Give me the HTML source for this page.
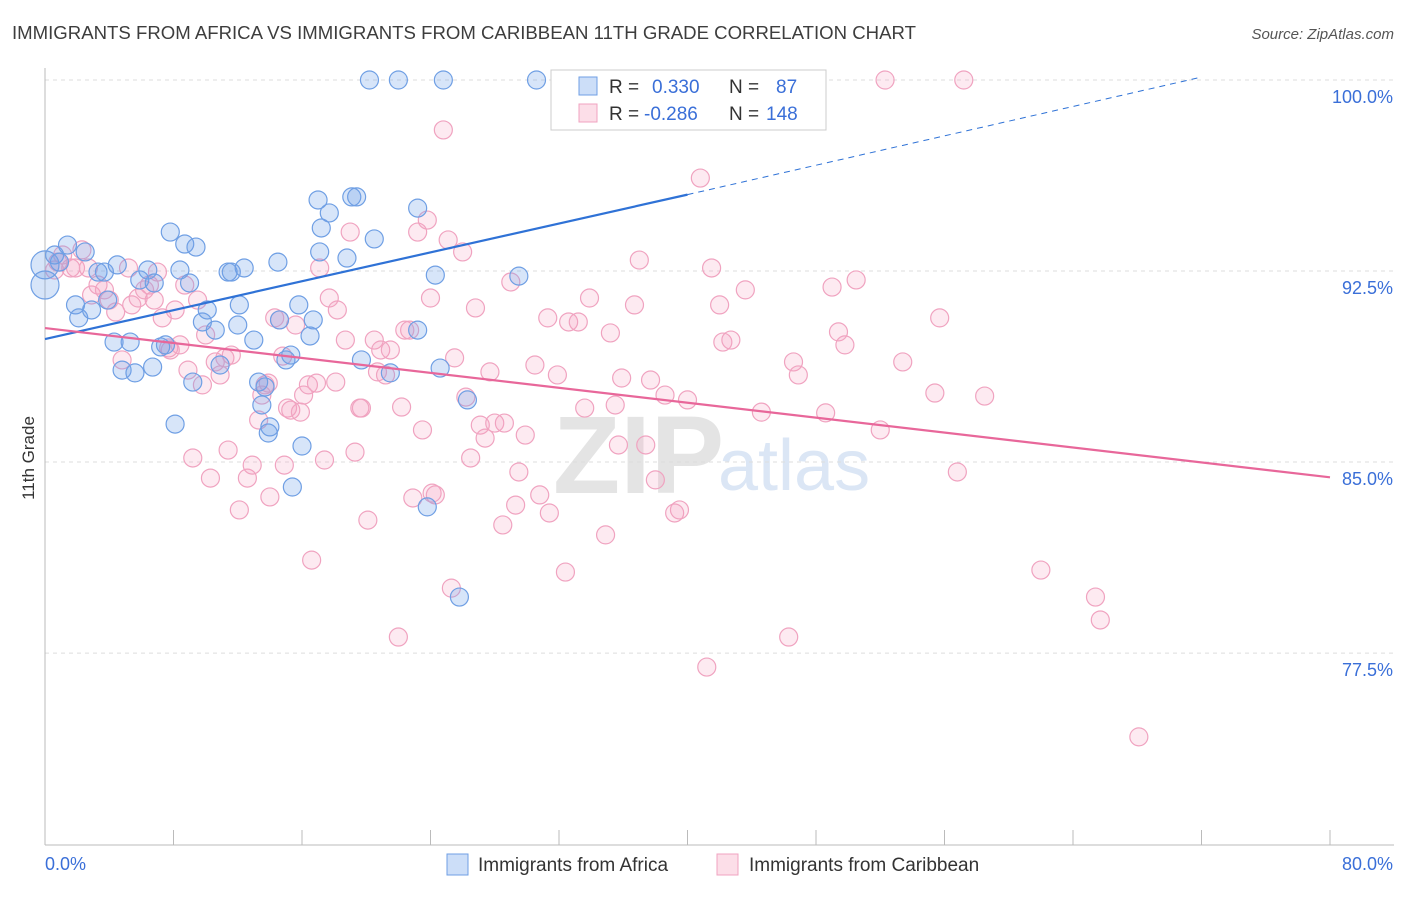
<!DOCTYPE html>
<html><head><meta charset="utf-8"><style>
body{margin:0;background:#fff;font-family:"Liberation Sans",sans-serif;}
svg text{font-family:"Liberation Sans",sans-serif;}
</style></head><body>
<svg id="chart" width="1406" height="892" viewBox="0 0 1406 892" xmlns="http://www.w3.org/2000/svg">
<text x="12" y="39" font-size="18.6" fill="#3d3d3d">IMMIGRANTS FROM AFRICA VS IMMIGRANTS FROM CARIBBEAN 11TH GRADE CORRELATION CHART</text>
<text x="1394" y="39" font-size="15" fill="#555" text-anchor="end" font-style="italic">Source: ZipAtlas.com</text>
<g>
<text x="553" y="493" font-size="110" fill="#e4e4e4" font-family="Liberation Serif,serif" font-weight="bold">ZIP</text>
<text x="718" y="490" font-size="72" fill="#dbe6f5">atlas</text>
</g>
<g id="grid"></g>
<g id="axes"></g>
<g id="pts"></g>
<g id="lines"></g>
<text transform="translate(34,458) rotate(-90)" font-size="17" fill="#333" text-anchor="middle">11th Grade</text>
<g>
<rect x="551" y="70" width="275" height="60" fill="#fff" stroke="#ccc"/>
<rect x="579" y="77" width="18" height="18" fill="rgba(110,160,235,0.35)" stroke="#6f9fe4"/>
<rect x="579" y="104" width="18" height="18" fill="rgba(245,160,190,0.35)" stroke="#f0a3c0"/>
<text x="609" y="93" font-size="19" fill="#333">R =</text>
<text x="652" y="93" font-size="19" fill="#3a6fd8">0.330</text>
<text x="729" y="93" font-size="19" fill="#333">N =</text>
<text x="776" y="93" font-size="19" fill="#3a6fd8">87</text>
<text x="609" y="120" font-size="19" fill="#333">R =</text>
<text x="644" y="120" font-size="19" fill="#3a6fd8">-0.286</text>
<text x="729" y="120" font-size="19" fill="#333">N =</text>
<text x="766" y="120" font-size="19" fill="#3a6fd8">148</text>
</g>
<g>
<rect x="447" y="854" width="21" height="21" fill="rgba(110,160,235,0.35)" stroke="#6f9fe4"/>
<text x="478" y="871" font-size="19" fill="#333">Immigrants from Africa</text>
<rect x="717" y="854" width="21" height="21" fill="rgba(245,160,190,0.35)" stroke="#f0a3c0"/>
<text x="749" y="871" font-size="19" fill="#333">Immigrants from Caribbean</text>
</g>
</svg>
<script>
const yTicks=[100,92.5,85,77.5];
const yTickLabels=["100.0%","92.5%","85.0%","77.5%"];
const xTicks=[0,8,16,24,32,40,48,56,64,72,80];
const xTickLabels=["0.0%","80.0%"];
const africaX=[20.2,22.0,24.8,30.6,32.8,35.8,0,0,0.6,0.9,1.4,1.9,2.1,2.5,2.9,3.3,3.7,3.9,4.3,4.5,4.8,5.3,5.6,5.9,6.4,6.7,6.8,7.2,7.5,7.8,8.1,8.4,8.7,9.0,9.2,9.4,9.8,10.1,10.6,10.9,11.4,11.6,12.0,12.1,12.4,13.0,13.3,13.5,13.7,13.9,14.0,14.5,14.6,15.0,15.3,15.4,15.8,16.0,16.5,16.7,17.0,17.1,17.2,17.7,18.8,19.1,19.4,19.7,20.5,21.5,23.2,23.2,23.8,24.3,24.6,25.8,26.3,29.5];
const africaY=[100,100,100,100,100,100,92.74,91.95,93.13,92.85,93.52,91.17,90.66,93.25,90.97,92.46,92.46,91.36,89.71,92.74,88.61,89.71,88.50,92.15,92.54,88.73,92.03,89.52,89.60,94.03,86.49,92.54,93.56,92.03,88.14,93.44,90.50,90.97,90.18,88.81,92.46,92.46,90.38,91.17,92.62,89.79,88.14,87.24,87.95,86.14,86.38,92.85,90.58,89.01,89.20,84.02,91.17,85.63,89.95,90.58,95.29,93.25,94.19,94.78,93.01,95.41,95.41,89.01,93.76,88.50,90.18,94.97,83.24,92.34,88.69,79.70,87.44,92.30];
const caribX=[0.6,0.8,1.1,1.6,1.9,2.3,2.7,2.9,3.3,3.7,4.0,4.4,4.8,5.2,5.4,5.8,6.2,6.5,6.8,7.0,7.3,7.7,7.8,8.1,8.4,8.7,8.9,9.2,9.5,9.8,10.0,10.3,10.6,10.9,11.2,11.4,11.6,12.1,12.6,12.9,13.3,13.5,13.7,13.9,14.0,14.3,14.6,14.8,14.9,15.1,15.3,15.6,15.9,16.1,16.4,16.6,16.9,17.1,17.4,17.7,18.1,18.2,18.7,19.0,19.3,19.6,19.7,20.1,20.5,20.7,20.9,21.2,21.5,22.0,22.2,22.4,22.7,22.9,23.2,23.5,23.8,24.0,24.1,24.3,24.8,25.1,25.3,25.5,26.0,26.2,26.5,26.8,27.1,27.4,27.7,28.0,28.5,28.6,29.0,29.3,29.5,29.9,30.5,30.8,31.3,31.4,31.9,32.4,32.6,33.2,33.6,33.9,34.9,35.2,35.5,35.7,35.9,36.7,37.0,37.4,37.7,38.0,38.6,39.2,39.5,40.0,40.8,41.2,41.5,42.0,42.2,42.7,43.6,44.6,46.3,46.6,46.9,48.6,49.0,49.4,49.8,50.5,52.0,52.3,53.4,55.4,55.7,56.8,57.2,58.5,62.0,65.4,65.7,68.1];
const caribY=[92.54,92.85,93.13,92.62,92.62,93.33,92.62,91.56,91.95,91.76,91.36,90.89,89.01,92.62,91.17,91.44,91.76,91.95,91.36,92.46,90.66,89.48,89.40,90.97,89.60,91.95,88.61,85.16,91.36,88.03,89.99,84.37,88.93,88.42,89.09,85.47,89.20,83.12,84.37,84.88,86.65,87.63,88.03,88.10,83.63,90.66,90.58,89.16,84.88,87.12,87.04,90.38,86.96,87.63,88.03,81.15,88.10,92.62,85.08,91.44,88.14,90.97,89.79,94.03,85.39,87.12,87.12,82.72,89.79,88.54,89.40,88.42,89.40,78.13,87.16,90.18,90.18,83.59,94.03,86.26,94.50,91.44,83.78,83.71,98.04,93.72,80.05,89.09,93.25,87.55,85.16,91.05,86.45,85.94,88.54,86.53,82.53,86.53,92.07,83.31,84.61,86.06,88.81,83.71,90.66,83.00,88.42,80.68,90.50,90.50,87.12,91.44,82.14,90.07,87.24,85.67,88.30,91.17,92.93,85.67,88.22,84.30,87.63,83.00,83.12,87.44,96.15,76.95,92.62,91.17,89.71,89.79,91.76,86.96,78.13,88.93,88.42,86.93,91.87,90.11,89.60,92.15,86.26,100,88.93,87.71,90.66,84.61,100,87.59,80.76,79.70,78.80,74.21];
const africaTrend=[[0,89.83],[40,95.5],[71.9,100.1]];
const caribTrend=[[0,90.26],[80,84.4]];

const NS="http://www.w3.org/2000/svg";
const X0=45,X1=1330,Y0=80,PPU=25.47;
const sx=v=>X0+(v-0)/80*(X1-X0);
const sy=v=>Y0+(100-v)*PPU;
function mk(tag,attrs,parent){const e=document.createElementNS(NS,tag);for(const k in attrs)e.setAttribute(k,attrs[k]);parent.appendChild(e);return e;}
const grid=document.getElementById('grid'),axes=document.getElementById('axes'),pts=document.getElementById('pts'),lines=document.getElementById('lines');
yTicks.forEach((t,i)=>{
  const l=mk('line',{x1:X0,x2:1394,y1:sy(t),y2:sy(t),stroke:'#ddd','stroke-dasharray':'4,4'},grid);
  
  
  const tx=mk('text',{x:1393,y:sy(t)+23,'font-size':18,fill:'#3a6fd8','text-anchor':'end'},axes);
  tx.textContent=yTickLabels[i];
  
  
});
mk('line',{x1:X0,x2:X0,y1:68,y2:845,stroke:'#bbb'},axes);
mk('line',{x1:X0,x2:1394,y1:845,y2:845,stroke:'#bbb'},axes);
xTicks.forEach(t=>{
  const l=mk('line',{x1:sx(t),x2:sx(t),y1:830,y2:845,stroke:'#bbb'},axes);
  
  
});
const xl0=mk('text',{x:45,y:870,'font-size':18,fill:'#3a6fd8'},axes);xl0.textContent=xTickLabels[0];


const xl1=mk('text',{x:1393,y:870,'font-size':18,fill:'#3a6fd8','text-anchor':'end'},axes);xl1.textContent=xTickLabels[1];



caribX.forEach((x,i)=>{
  const c=mk('circle',{cx:sx(x),cy:sy(caribY[i]),r:9,fill:'rgba(245,160,190,0.22)',stroke:'#f0a3c0','stroke-width':1.2},pts);
  
  
});
africaX.forEach((x,i)=>{
  const r=(x===0)?14:9;
  const c=mk('circle',{cx:sx(x),cy:sy(africaY[i]),r:r,fill:'rgba(110,160,235,0.28)',stroke:'#6f9fe4','stroke-width':1.2},pts);
  
  
});
const a1=mk('line',{x1:sx(africaTrend[0][0]),y1:sy(africaTrend[0][1]),x2:sx(africaTrend[1][0]),y2:sy(africaTrend[1][1]),stroke:'#2f72d6','stroke-width':2.2},lines);


const a2=mk('line',{x1:sx(africaTrend[1][0]),y1:sy(africaTrend[1][1]),x2:sx(africaTrend[2][0]),y2:sy(africaTrend[2][1]),stroke:'#2f72d6','stroke-width':1,'stroke-dasharray':'6,5'},lines);


const c1=mk('line',{x1:sx(caribTrend[0][0]),y1:sy(caribTrend[0][1]),x2:sx(caribTrend[1][0]),y2:sy(caribTrend[1][1]),stroke:'#e8679a','stroke-width':2.2},lines);


</script>
</body></html>
